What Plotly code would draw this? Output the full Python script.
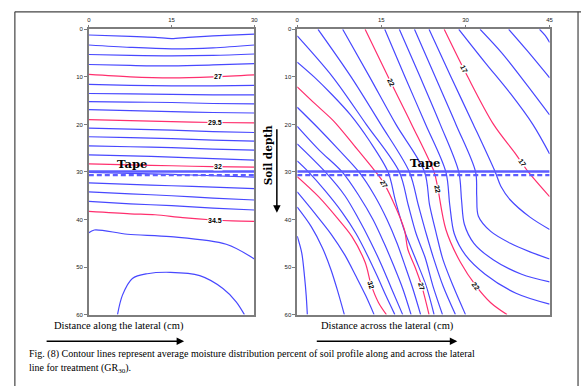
import numpy as np
import plotly.graph_objects as go

W, H = 585, 389

# ---------------- moisture contours along the lateral (x: 0-30 cm) ----------------
left_levels = [25, 25.5, 26, 26.5, 27, 27.5, 28, 28.5, 29, 29.5, 30, 30.5, 31, 31.5,
               32, 32.5, 33, 33.5, 34, 34.5, 35, 35.5]
grid5 = [0, 7.5, 15, 22.5, 30]
left_x = [
    [0, 7.5, 12, 15, 18, 22.5, 30],
    grid5, grid5, grid5, grid5, grid5, grid5, grid5, grid5, grid5, grid5,
    grid5, grid5, grid5, grid5, grid5, grid5, grid5, grid5,
    [0, 7.5, 12, 17, 22.5, 26, 30],
    [0, 1, 7, 14.8, 24.9, 30],
    [5.2, 6.1, 7.9, 10.6, 14.8, 20.1, 24.3, 26.7, 28.2],
]
left_depth = [
    [1.2, 1.5, 1.7, 1.95, 1.7, 1.4, 1.0],
    [3.3, 3.8, 4.1, 3.9, 3.3],
    [5.3, 5.5, 5.6, 5.5, 5.2],
    [7.4, 7.6, 7.7, 7.5, 7.2],
    [9.5, 10.0, 10.2, 10.0, 9.6],
    [11.6, 11.8, 11.9, 11.9, 11.8],
    [13.5, 13.6, 13.7, 13.8, 13.8],
    [15.2, 15.3, 15.4, 15.6, 15.7],
    [16.9, 17.1, 17.3, 17.5, 17.6],
    [19.0, 19.2, 19.4, 19.6, 19.7],
    [20.8, 21.0, 21.2, 21.5, 21.7],
    [22.6, 22.8, 23.0, 23.3, 23.5],
    [24.5, 24.7, 24.9, 25.2, 25.4],
    [26.4, 26.6, 26.9, 27.2, 27.5],
    [28.3, 28.5, 28.7, 28.9, 29.0],
    [30.1, 30.3, 30.5, 30.8, 31.1],
    [32.3, 32.6, 32.9, 33.2, 33.5],
    [34.2, 34.6, 35.0, 35.5, 35.9],
    [36.2, 36.7, 37.1, 37.6, 38.0],
    [38.3, 38.8, 39.0, 39.6, 40.1, 40.3, 40.4],
    [42.8, 42.2, 43.1, 43.6, 45.2, 48.3],
    [60, 55.9, 52.4, 51.4, 51.1, 51.8, 54.5, 57.3, 60],
]
left_label_levels = [27, 29.5, 32, 34.5]
left_label_x = [23.4, 22.8, 23.4, 22.8]

# ---------------- moisture contours across the lateral (x: 0-45 cm) ----------------
right_levels = [13, 14, 15, 16, 17, 18, 19, 20, 21, 22, 23, 24, 25, 26, 27, 28, 29,
                30, 31, 32, 33, 34, 35]
right_x = [
    [43.2, 44.2, 45],
    [37.7, 41, 45],
    [32.6, 36.5, 40.5, 45],
    [28.8, 33.5, 38, 42, 45],
    [26.2, 30.4, 35, 38.8, 41.2, 45],
    [23.5, 27.4, 31.4, 35.3, 36.3, 38, 41.5, 45],
    [20.9, 24.6, 28.3, 31.8, 32, 32.3, 34.5, 38, 41.5, 45],
    [18.2, 21.9, 25.5, 28.8, 29.3, 29.8, 31.5, 35, 40, 45],
    [15.6, 19.2, 22.9, 26.5, 27.2, 28, 30, 33.5, 39, 45],
    [12.1, 16.2, 20.4, 24.4, 25, 26.5, 29.1, 31.9, 34.5, 37.4],
    [8.1, 12.9, 17.6, 22.7, 23.6, 24.8, 26, 27.8, 30],
    [3.7, 9.6, 14.9, 20, 21.6, 23, 24.4, 26, 28.2],
    [0, 6.3, 12.3, 18.2, 19.8, 21.2, 22.8, 24.2, 25.9],
    [0, 3, 6, 9.5, 12.9, 16.2, 17.5, 19, 21, 23, 24.4],
    [0, 3.3, 6.5, 10.2, 13.8, 15.3, 17, 19.1, 19.7, 21, 22.2, 23.5],
    [0, 3.5, 7.3, 11, 13.8, 16, 17.8, 19.3, 20.6, 22],
    [0, 4, 8, 11, 13.5, 15.5, 17.3, 18.8, 20.3],
    [0, 5, 8.5, 11, 13, 15, 16.8, 18.8],
    [0, 2, 5, 8, 10.5, 12.5, 14.3, 15.8, 17.4],
    [0, 3.8, 7, 9.7, 12.1, 13.2, 14.5, 15.9],
    [0, 3, 6, 8.5, 10.5, 12.2, 13.7],
    [0, 2.5, 4.5, 6, 7.2, 8.4],
    [0, 0.8, 1.3, 1.6, 1.8],
]
right_depth = [
    [0, 1.3, 2.75],
    [0, 4.5, 10.2],
    [0, 5, 11, 18],
    [0, 7, 13.5, 20, 26.2],
    [0, 10, 20, 26, 30, 35.2],
    [0, 10, 20, 30, 33, 35.9, 39.5, 42.1],
    [0, 10, 20, 30, 35, 39.3, 42.5, 45, 46.8, 48.3],
    [0, 10, 20, 30, 36, 41, 45, 48.5, 51.5, 53.1],
    [0, 10, 20, 30, 37, 43, 47.5, 51.5, 55.5, 57.8],
    [0, 10, 20, 30, 33, 42.1, 49, 54, 57.5, 60],
    [0, 10, 20, 30, 37, 43, 48.5, 54, 60],
    [0, 10, 20, 30, 37, 43, 48.5, 54, 60],
    [1.4, 10, 20, 30, 37, 43, 48, 54, 60],
    [6.9, 10, 13.5, 18, 23.5, 30, 36, 42, 48, 54, 60],
    [12.1, 15.8, 19.3, 24.5, 29.7, 32.1, 36, 42.1, 46.2, 50, 54, 60],
    [16.4, 20.5, 25.2, 30, 35, 40, 45, 50, 54.5, 60],
    [20.4, 25.5, 30, 35, 40, 45, 50, 54.5, 60],
    [24.1, 30, 35, 40, 44.5, 49.5, 54.5, 60],
    [27.7, 30, 34, 38.5, 43, 47.5, 52, 56, 60],
    [31.0, 35.2, 39.5, 43.5, 49, 53.8, 57.5, 60],
    [34.2, 38.5, 43, 47.5, 52, 56, 60],
    [37.4, 41.5, 46, 50.5, 55, 60],
    [43.5, 47, 52, 56, 60],
]
right_label_levels = [22, 17, 17, 27, 22, 32, 27, 22]
right_label_depth = [11.2, 8.3, 28.1, 32.6, 33.6, 53.8, 54.0, 54.0]

# ---------------- tape position and axes ----------------
tape_depth = 30
left_xticks = [0, 15, 30]
right_xticks = [0, 15, 30, 45]
depth_ticks = [0, 10, 20, 30, 40, 50, 60]

BLUE = "#4848ff"
RED = "#ff2f6e"
TAPE = "#5c5cff"
FRAME = "#7d7d7d"

# panel geometry (pixels)
Y_TOP, Y_BOT = 26.7, 316.5
LX0, LX1 = 87.7, 255.0
RX0, RX1 = 298.3, 553.3


def px(x):
    return x / W


def py(y):
    return 1 - y / H


fig = go.Figure()


def add_lines(levels, xs, ds, major, xa, ya):
    for lvl, x, d in zip(levels, xs, ds):
        fig.add_trace(go.Scatter(
            x=x, y=d, mode="lines", xaxis=xa, yaxis=ya,
            line=dict(color=RED if major(lvl) else BLUE, width=1.2,
                      shape="spline", smoothing=0.9),
            hoverinfo="skip", showlegend=False))


add_lines(left_levels, left_x, left_depth,
          lambda v: abs(((v - 27) / 2.5) - round((v - 27) / 2.5)) < 1e-6, "x", "y")
add_lines(right_levels, right_x, right_depth,
          lambda v: (v - 17) % 5 == 0, "x2", "y2")

# drip tape: solid line with dashed line just beneath
for xa, ya, xmax in (("x", "y", 30), ("x2", "y2", 45)):
    fig.add_trace(go.Scatter(x=[0, xmax], y=[tape_depth - 0.1] * 2, mode="lines",
                             xaxis=xa, yaxis=ya, line=dict(color=TAPE, width=2.6),
                             hoverinfo="skip", showlegend=False))
    fig.add_trace(go.Scatter(x=[0, xmax], y=[tape_depth + 0.65] * 2, mode="lines",
                             xaxis=xa, yaxis=ya,
                             line=dict(color=TAPE, width=2.2, dash="5px,3px"),
                             hoverinfo="skip", showlegend=False))

ann = []
lab_font = dict(family="Liberation Sans", size=7, color="black")

# contour value labels, left panel
for lvl, lx in zip(left_label_levels, left_label_x):
    i = left_levels.index(lvl)
    d = float(np.interp(lx, left_x[i], left_depth[i]))
    ann.append(dict(x=lx, y=d, xref="x", yref="y", text=f"<b>{lvl:g}</b>",
                    xanchor="center", yanchor="middle",
                    showarrow=False, bgcolor="white", borderpad=0, font=lab_font))

# contour value labels, right panel (rotated along the line)
sx = (RX1 - RX0) / 45.0
sy = (Y_BOT - Y_TOP) / 60.0
for lvl, d in zip(right_label_levels, right_label_depth):
    i = right_levels.index(lvl)
    xs, ds = right_x[i], right_depth[i]
    lx = float(np.interp(d, ds, xs))
    dx = float(np.interp(d + 1.5, ds, xs) - np.interp(d - 1.5, ds, xs))
    ang = np.degrees(np.arctan2(3.0 * sy, dx * sx))
    ann.append(dict(x=lx, y=d, xref="x2", yref="y2", text=f"<b>{lvl:g}</b>",
                    xanchor="center", yanchor="middle",
                    showarrow=False, bgcolor="white", borderpad=0, textangle=ang,
                    font=lab_font))

tape_font = dict(family="DejaVu Serif", size=11.5, color="black")
ann.append(dict(x=7.8, y=28.3, xref="x", yref="y", text="<b>Tape</b>",
                xanchor="center", yanchor="middle", showarrow=False, font=tape_font))
ann.append(dict(x=22.7, y=28.2, xref="x2", yref="y2", text="<b>Tape</b>",
                xanchor="center", yanchor="middle", showarrow=False, font=tape_font))

# soil depth label with downward arrow
ann.append(dict(x=px(268.5), y=py(155), xref="paper", yref="paper",
                xanchor="center", yanchor="middle",
                text="<b>Soil depth</b>", textangle=-90, showarrow=False,
                font=dict(family="DejaVu Serif", size=10.5, color="black")))
ann.append(dict(x=px(277.7), y=py(213), xref="paper", yref="paper", text="",
                showarrow=True, ax=0, ay=-85, arrowhead=2, arrowsize=1,
                arrowwidth=1.5, arrowcolor="black"))

# distance captions and arrows below the panels
cap_font = dict(family="Liberation Serif", size=10.5, color="black")
ann.append(dict(x=px(118.5), y=py(328), xref="paper", yref="paper",
                xanchor="center", yanchor="middle",
                text="Distance along the lateral (cm)", showarrow=False, font=cap_font))
ann.append(dict(x=px(389), y=py(328), xref="paper", yref="paper",
                xanchor="center", yanchor="middle",
                text="Distance across the lateral (cm)", showarrow=False, font=cap_font))
ann.append(dict(x=px(184), y=py(343.5), xref="paper", yref="paper", text="",
                showarrow=True, ax=-139, ay=0, arrowhead=2, arrowsize=1,
                arrowwidth=1.5, arrowcolor="black"))
ann.append(dict(x=px(460), y=py(343.5), xref="paper", yref="paper", text="",
                showarrow=True, ax=-142, ay=0, arrowhead=2, arrowsize=1,
                arrowwidth=1.5, arrowcolor="black"))

fig_font = dict(family="Liberation Serif", size=10, color="black")
ann.append(dict(x=px(25), y=py(357), xref="paper", yref="paper",
                xanchor="left", yanchor="middle",
                text="Fig. (8) Contour lines represent average moisture distribution "
                     "percent of soil profile along and across the lateral",
                showarrow=False, font=fig_font))
ann.append(dict(x=px(25), y=py(371), xref="paper", yref="paper",
                xanchor="left", yanchor="middle",
                text="line for treatment (GR<sub>30</sub>).",
                showarrow=False, font=fig_font))

# outer frame of the figure block
shapes = [
    dict(type="line", xref="paper", yref="paper", x0=px(13), x1=px(13), y0=0, y1=py(9),
         line=dict(color="#444", width=1.2)),
    dict(type="line", xref="paper", yref="paper", x0=px(13), x1=1, y0=py(9), y1=py(9),
         line=dict(color="#444", width=1.2)),
    dict(type="line", xref="paper", yref="paper", x0=px(582), x1=px(582), y0=0,
         y1=py(9), line=dict(color="#444", width=1.2)),
]

tick_font = dict(family="Liberation Sans", size=6, color="#222")
xcommon = dict(side="top", showline=True, linecolor=FRAME, linewidth=1.5, mirror=True,
               ticks="outside", ticklen=3, tickcolor=FRAME, tickwidth=1,
               showgrid=False, zeroline=False, tickfont=tick_font, fixedrange=True)
ycommon = dict(range=[60, 0], tickvals=depth_ticks, showline=True, linecolor=FRAME,
               linewidth=1.5, mirror=True, ticks="outside", ticklen=3,
               tickcolor=FRAME, tickwidth=1, showgrid=False, zeroline=False,
               tickfont=tick_font, fixedrange=True, domain=[py(Y_BOT), py(Y_TOP)])

fig.update_layout(
    width=W, height=H, autosize=False,
    margin=dict(l=0, r=0, t=0, b=0),
    paper_bgcolor="white", plot_bgcolor="white",
    xaxis=dict(range=[0, 30], tickvals=left_xticks, domain=[px(LX0), px(LX1)],
               anchor="y", **xcommon),
    yaxis=dict(anchor="x", **ycommon),
    xaxis2=dict(range=[0, 45], tickvals=right_xticks, domain=[px(RX0), px(RX1)],
                anchor="y2", **xcommon),
    yaxis2=dict(anchor="x2", **ycommon),
    annotations=ann,
    shapes=shapes,
)

fig.write_html("out.html")
